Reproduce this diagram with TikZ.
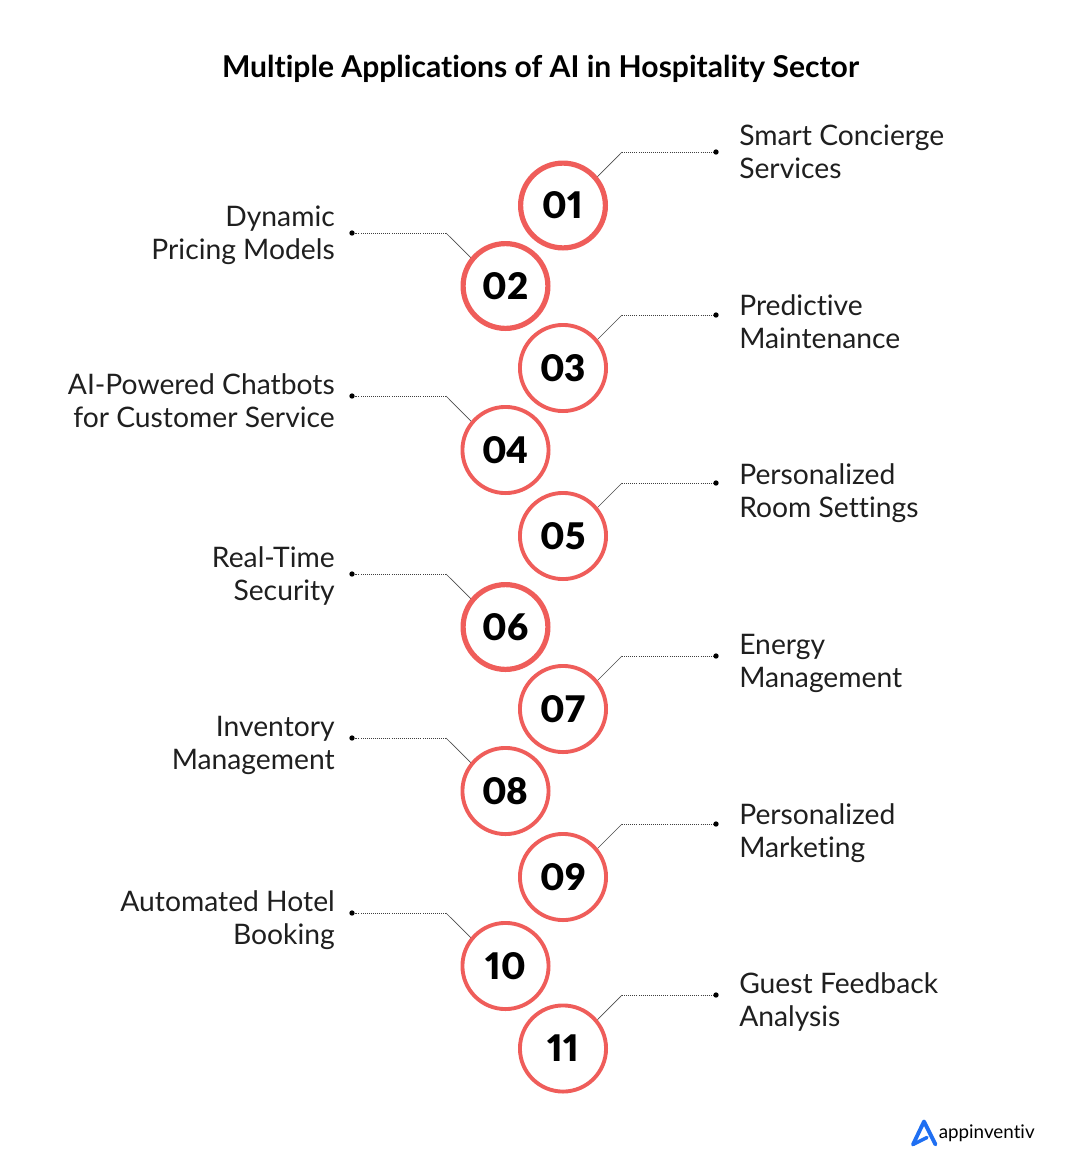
\documentclass[tikz,border=0pt]{standalone}
\usepackage{fontspec}
\setmainfont[Ligatures=NoCommon]{Lato}
\newfontfamily\numfont[Numbers=Proportional]{Lato Black}
\usetikzlibrary{backgrounds}
\definecolor{ringred}{HTML}{EF5D5A}
\definecolor{logoblue}{HTML}{1F6FF2}
\begin{document}
\begin{tikzpicture}[x=0.75pt,y=-0.75pt,
  ringthin/.style={circle,draw=ringred,line width=2.9pt,fill=white,minimum size=64.6pt,inner sep=0pt,font=\fontsize{27.5}{27.5}\numfont},
  ringthick/.style={ringthin,line width=3.9pt,minimum size=63.6pt},
  labelr/.style={anchor=west,align=left,inner sep=0pt,font=\fontsize{21.2}{24.75}\selectfont,text=black!88},
  labell/.style={anchor=east,align=right,inner sep=0pt,font=\fontsize{21.2}{24.75}\selectfont,text=black!88},
  enddot/.style={circle,fill=black,minimum size=4pt,inner sep=0pt},
  leader/.style={draw=black!75,line width=0.55pt,densely dotted},
  slant/.style={draw=black!70,line width=0.5pt}]
\useasboundingbox (0,0) rectangle (1080,1168);
\node[inner sep=0pt,font=\fontsize{22.55}{25}\selectfont\bfseries] (title) at (540.5,69) {Multiple Applications of AI in Hospitality Sector};
% circles
\node[ringthick] (n01) at (563,205.5) {\raisebox{-1.2pt}{01}};
\node[ringthick] (n02) at (505.5,286) {02};
\node[ringthin] (n03) at (563,368) {03};
\node[ringthin] (n04) at (505.5,450) {04};
\node[ringthin] (n05) at (563,536) {05};
\node[ringthick] (n06) at (505.5,627) {06};
\node[ringthin] (n07) at (563,709) {07};
\node[ringthin] (n08) at (505.5,791) {08};
\node[ringthin] (n09) at (563,877) {09};
\node[ringthin] (n10) at (505.5,966) {10};
\node[ringthin] (n11) at (563,1048.5) {11};
% labels
\node[labelr] (t01) at (739,152) {Smart Concierge\\Services};
\node[labell] (t02) at (335,235) {Dynamic\\Pricing Models};
\node[labelr] (t03) at (739,322) {Predictive\\Maintenance};
\node[labell] (t04) at (335,401) {AI-Powered Chatbots\\for Customer Service};
\node[labelr] (t05) at (739,493) {Personalized\\Room Settings};
\node[labell] (t06) at (335,576) {Real-Time\\Security};
\node[labelr] (t07) at (739,663) {Energy\\Management};
\node[labell] (t08) at (335,745) {Inventory\\Management};
\node[labelr] (t09) at (739,833) {Personalized\\Marketing};
\node[labell] (t10) at (335,920) {Automated Hotel\\Booking};
\node[labelr] (t11) at (739,1002) {Guest Feedback\\Analysis};
% end dots and bends
\foreach \nm/\yy in {01/152,03/315,05/483,07/656,09/824,11/995}{
  \node[enddot] (d\nm) at (716,\yy) {};
  \coordinate (b\nm) at (622,\yy);
  \begin{scope}[on background layer]
  \path[leader] (b\nm) -- (d\nm);
  \path[slant] ([yshift=-6*0.75pt]n\nm.center) -- (b\nm);
  \end{scope}
}
\foreach \nm/\yy in {02/233,04/396,06/574,08/738,10/913}{
  \node[enddot] (d\nm) at (352,\yy) {};
  \coordinate (b\nm) at (446,\yy);
  \begin{scope}[on background layer]
  \path[leader] (b\nm) -- (d\nm);
  \path[slant] ([yshift=-6*0.75pt]n\nm.center) -- (b\nm);
  \end{scope}
}
% logo
\draw[logoblue,line width=2.9pt,line join=round,line cap=round] (913,1144.5) -- (924,1121.5) -- (935.5,1144.5);
\draw[logoblue,line width=2.6pt,line cap=round] (913,1144.5) -- (927,1137.5);
\node[inner sep=0pt,anchor=west,font=\fontsize{14.1}{15}\selectfont] (logo) at (938.5,1133) {appinventiv};
\end{tikzpicture}
\end{document}
